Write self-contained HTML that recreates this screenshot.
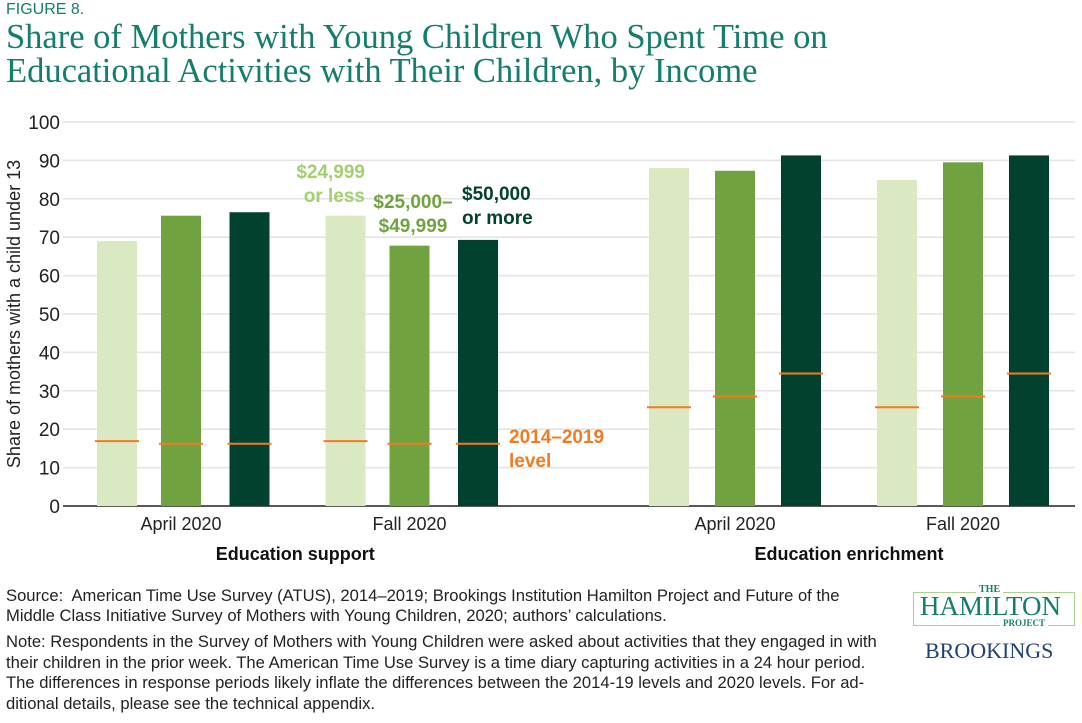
<!DOCTYPE html>
<html><head><meta charset="utf-8"><style>
html,body{margin:0;padding:0;background:#fff;}
body{width:1082px;height:723px;position:relative;overflow:hidden;font-family:"Liberation Sans",sans-serif;}
.t{position:absolute;white-space:nowrap;}
</style></head><body>
<div class="t" style="left:6px;top:1px;font-size:16px;color:#137e6c;">FIGURE 8.</div>
<div class="t" style="left:6px;top:20px;font-family:'Liberation Serif',serif;font-size:34.5px;line-height:34px;color:#137e6c;">Share of Mothers with Young Children Who Spent Time on<br>Educational Activities with Their Children, by Income</div>
<svg id="chart" width="1082" height="580" style="position:absolute;left:0;top:0;font-family:'Liberation Sans',sans-serif;"></svg>
<div class="t" style="left:6px;top:586px;font-size:16.6px;line-height:20px;color:#222;">Source:&nbsp; American Time Use Survey (ATUS), 2014–2019; Brookings Institution Hamilton Project and Future of the<br>Middle Class Initiative Survey of Mothers with Young Children, 2020; authors’ calculations.</div>
<div class="t" style="left:6px;top:632px;font-size:16.6px;line-height:20.5px;color:#222;">Note: Respondents in the Survey of Mothers with Young Children were asked about activities that they engaged in with<br>their children in the prior week. The American Time Use Survey is a time diary capturing activities in a 24 hour period.<br>The differences in response periods likely inflate the differences between the 2014-19 levels and 2020 levels. For ad-<br>ditional details, please see the technical appendix.</div>
<div style="position:absolute;left:913px;top:592px;width:160px;height:32px;border:1.5px solid #a9d58a;"></div>
<div class="t" style="left:976px;top:584px;background:#fff;padding:0 3px;font-family:'Liberation Serif',serif;font-size:10px;color:#137e6c;font-weight:bold;">THE</div>
<div class="t" style="left:920px;top:591px;font-family:'Liberation Serif',serif;font-size:27px;color:#137e6c;">HAMILTON</div>
<div class="t" style="left:1000px;top:618px;background:#fff;padding:0 3px;font-family:'Liberation Serif',serif;font-size:9px;color:#137e6c;font-weight:bold;">PROJECT</div>
<div class="t" style="left:925px;top:638px;font-family:'Liberation Serif',serif;font-size:22px;color:#1f3f78;">BROOKINGS</div>
<script>
const categories=["April 2020","Fall 2020","April 2020","Fall 2020"];
const panels=["Education support","Education enrichment"];
const seriesNames=["$24,999 or less","$25,000–$49,999","$50,000 or more"];
const lowIncome=[69,75.6,88.0,84.9];
const midIncome=[75.6,67.8,87.3,89.5];
const highIncome=[76.5,69.3,91.3,91.3];
const base2014Low=[16.9,16.9,25.7,25.7];
const base2014Mid=[16.2,16.2,28.5,28.5];
const base2014High=[16.2,16.2,34.5,34.5];
const yTicks=[0,10,20,30,40,50,60,70,80,90,100];

const svg=document.getElementById('chart');
const NS='http://www.w3.org/2000/svg';
function mk(tag,attrs,parent){const e=document.createElementNS(NS,tag);for(const k in attrs)e.setAttribute(k,attrs[k]);(parent||svg).appendChild(e);return e;}
const y0=506,yTop=122,xL=63,xR=1075;
function y(v){return y0-(v/100)*(y0-yTop);}
const groupCenters=[181,409.5,735,963];
const offsLeft=[-64,0,68.5], offsRight=[-66,0,66];
const bw=40;
function x(ci,si){return groupCenters[ci]+(ci<2?offsLeft:offsRight)[si];}
const colors=["#dbe9c3","#70a340","#024130"];
const series=[lowIncome,midIncome,highIncome];
const bases=[base2014Low,base2014Mid,base2014High];

yTicks.forEach(t=>{
  const g=mk('line',{x1:xL,x2:xR,y1:y(t),y2:y(t),stroke:t===0?'#222':'#e3e3e3','stroke-width':1.5});
  
  
  const l=mk('text',{x:60,y:y(t)+7,'text-anchor':'end','font-size':19,fill:'#222'});
  l.textContent=t;
  
  
});
const yt=mk('text',{transform:'translate(20,314) rotate(-90)','text-anchor':'middle','font-size':18,fill:'#222'});
yt.textContent='Share of mothers with a child under 13';



categories.forEach((c,ci)=>{
  series.forEach((s,si)=>{
    const r=mk('rect',{x:x(ci,si)-bw/2,y:y(s[ci]),width:bw,height:y0-y(s[ci]),fill:colors[si]});
    
    
  });
  bases.forEach((b,si)=>{
    const l=mk('line',{x1:x(ci,si)-22,x2:x(ci,si)+22,y1:y(b[ci]),y2:y(b[ci]),stroke:'#f47a20','stroke-width':2});
    
    
  });
  const t=mk('text',{x:groupCenters[ci],y:530,'text-anchor':'middle','font-size':18,fill:'#222'});
  t.textContent=c;
  
  
});
panels.forEach((p,pi)=>{
  const t=mk('text',{x:(groupCenters[pi*2]+groupCenters[pi*2+1])/2,y:560,'text-anchor':'middle','font-size':18,'font-weight':'bold',fill:'#111'});
  t.textContent=p;
  
  
});
function lab(lines,xx,yy,anchor,col,name){
  lines.forEach((s,i)=>{const t=mk('text',{x:xx,y:yy+i*24,'text-anchor':anchor,'font-size':19,'font-weight':'bold',fill:col});t.textContent=s;
  
  });
}
lab(["$24,999","or less"],365,178,'end','#a4cf6f','legend-low-income');
lab(["$25,000–","$49,999"],413,208,'middle','#70a340','legend-mid-income');
lab(["$50,000","or more"],462,200,'start','#024130','legend-high-income');
lab(["2014–2019","level"],509,443,'start','#f47a20','legend-baseline');
</script>
</body></html>
